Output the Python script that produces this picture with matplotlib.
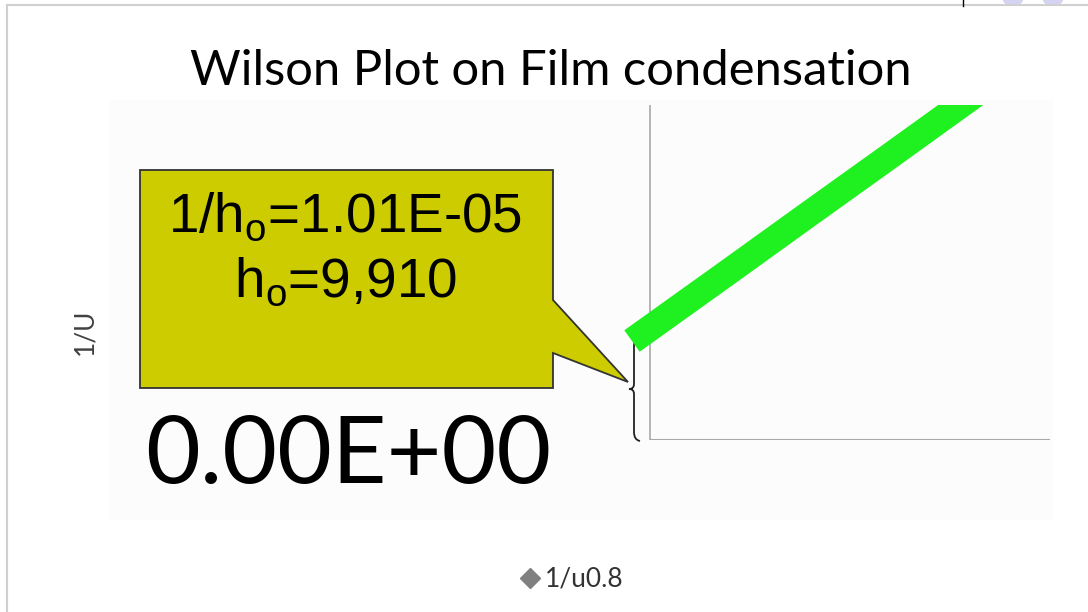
import numpy as np
import matplotlib.pyplot as plt
from matplotlib.patches import Polygon, Rectangle, Circle, PathPatch
from matplotlib.path import Path
from matplotlib.lines import Line2D

# data (1/u^0.8 vs 1/U, arbitrary units)
inv_u08 = [-0.045, 0.2, 0.4, 0.6, 0.8, 0.95]
inv_U = [0.2955, 0.505, 0.677, 0.848, 1.020, 1.148]

title = "Wilson Plot on Film condensation"
intercept_label = "0.00E+00"
callout_lines = [r"1/h$_\mathregular{o}$=1.01E-05", r"h$_\mathregular{o}$=9,910"]
series_name = "1/u0.8"

W, H = 1088, 612
fig = plt.figure(figsize=(W / 100, H / 100), dpi=100)


def fx(x):
    return x / W


def fy(y):
    return 1 - y / H


# slide frame bits
fig.add_artist(Line2D([fx(7), 1], [fy(5), fy(5)], color="#d0d0d0", lw=1.5))
fig.add_artist(Line2D([fx(7), fx(7)], [fy(5), 0], color="#d0d0d0", lw=1.5))
fig.add_artist(Line2D([fx(963), fx(963)], [1, fy(6)], color="black", lw=1))
for cx in (1013, 1053):
    fig.add_artist(Circle((fx(cx), fy(0)), 10 / W, transform=fig.transFigure,
                          facecolor="#d4d4f2", edgecolor="none"))

# chart area (very faint)
fig.add_artist(Rectangle((fx(110), fy(520)), fx(1053) - fx(110), fy(100) - fy(520),
                         transform=fig.transFigure, facecolor="#fcfcfc",
                         edgecolor="none", zorder=-5))

# plot area
ax = fig.add_axes([fx(615), fy(440), fx(1050) - fx(615), fy(105) - fy(440)])
ax.set_zorder(2)
ax.set_facecolor("none")
ax.set_xlim(-0.0875, 1.0)
ax.set_ylim(0, 1)
for s in ax.spines.values():
    s.set_visible(False)
ax.set_xticks([])
ax.set_yticks([])
ax.axvline(0, color="#a8a8a8", lw=1.2)
ax.hlines(0, 0, 1, color="#a8a8a8", lw=1.5)
ax.plot(inv_u08, inv_U, color="#1ff01f", lw=19, solid_capstyle="butt")

# title
fig.text(fx(551), fy(85), title, ha="center", va="baseline",
         fontsize=35.3, family="Lato", color="black")

# callout box
pts = [(140, 170), (553, 170), (553, 300), (628, 382), (553, 353), (553, 388), (140, 388)]
fig.add_artist(Polygon([(fx(x), fy(y)) for x, y in pts], closed=True,
                       transform=fig.transFigure, facecolor="#cccc00",
                       edgecolor="#333333", lw=1.3))
fig.text(fx(345), fy(232), callout_lines[0], ha="center", va="baseline",
         fontsize=39.5, family="Liberation Sans", color="black")
fig.text(fx(346), fy(297), callout_lines[1], ha="center", va="baseline",
         fontsize=39.5, family="Liberation Sans", color="black")

# big intercept label
fig.text(fx(348), fy(483), intercept_label, ha="center", va="baseline",
         fontsize=68, family="Lato", color="black")

# brace
bx = [(640, 336), (634, 338), (634, 346), (634, 384), (634, 389), (629, 389),
      (634, 389), (634, 394), (634, 432), (634, 440), (640, 441)]
codes = [Path.MOVETO, Path.CURVE3, Path.CURVE3, Path.LINETO, Path.CURVE3, Path.CURVE3,
         Path.CURVE3, Path.CURVE3, Path.LINETO, Path.CURVE3, Path.CURVE3]
fig.add_artist(PathPatch(Path([(fx(x), fy(y)) for x, y in bx], codes),
                         transform=fig.transFigure, facecolor="none",
                         edgecolor="#222222", lw=1.3))

# axis title and legend
fig.text(fx(85), fy(332), "1/U", rotation=90, ha="center", va="center",
         fontsize=19, family="Lato", color="#404040")
fig.add_artist(Line2D([fx(530)], [fy(578)], marker="D", markersize=10,
                      color="#808080", linestyle="none"))
fig.text(fx(545), fy(587), series_name, ha="left", va="baseline",
         fontsize=19, family="Lato", color="#333333")

fig.savefig("out.png", dpi=100)
